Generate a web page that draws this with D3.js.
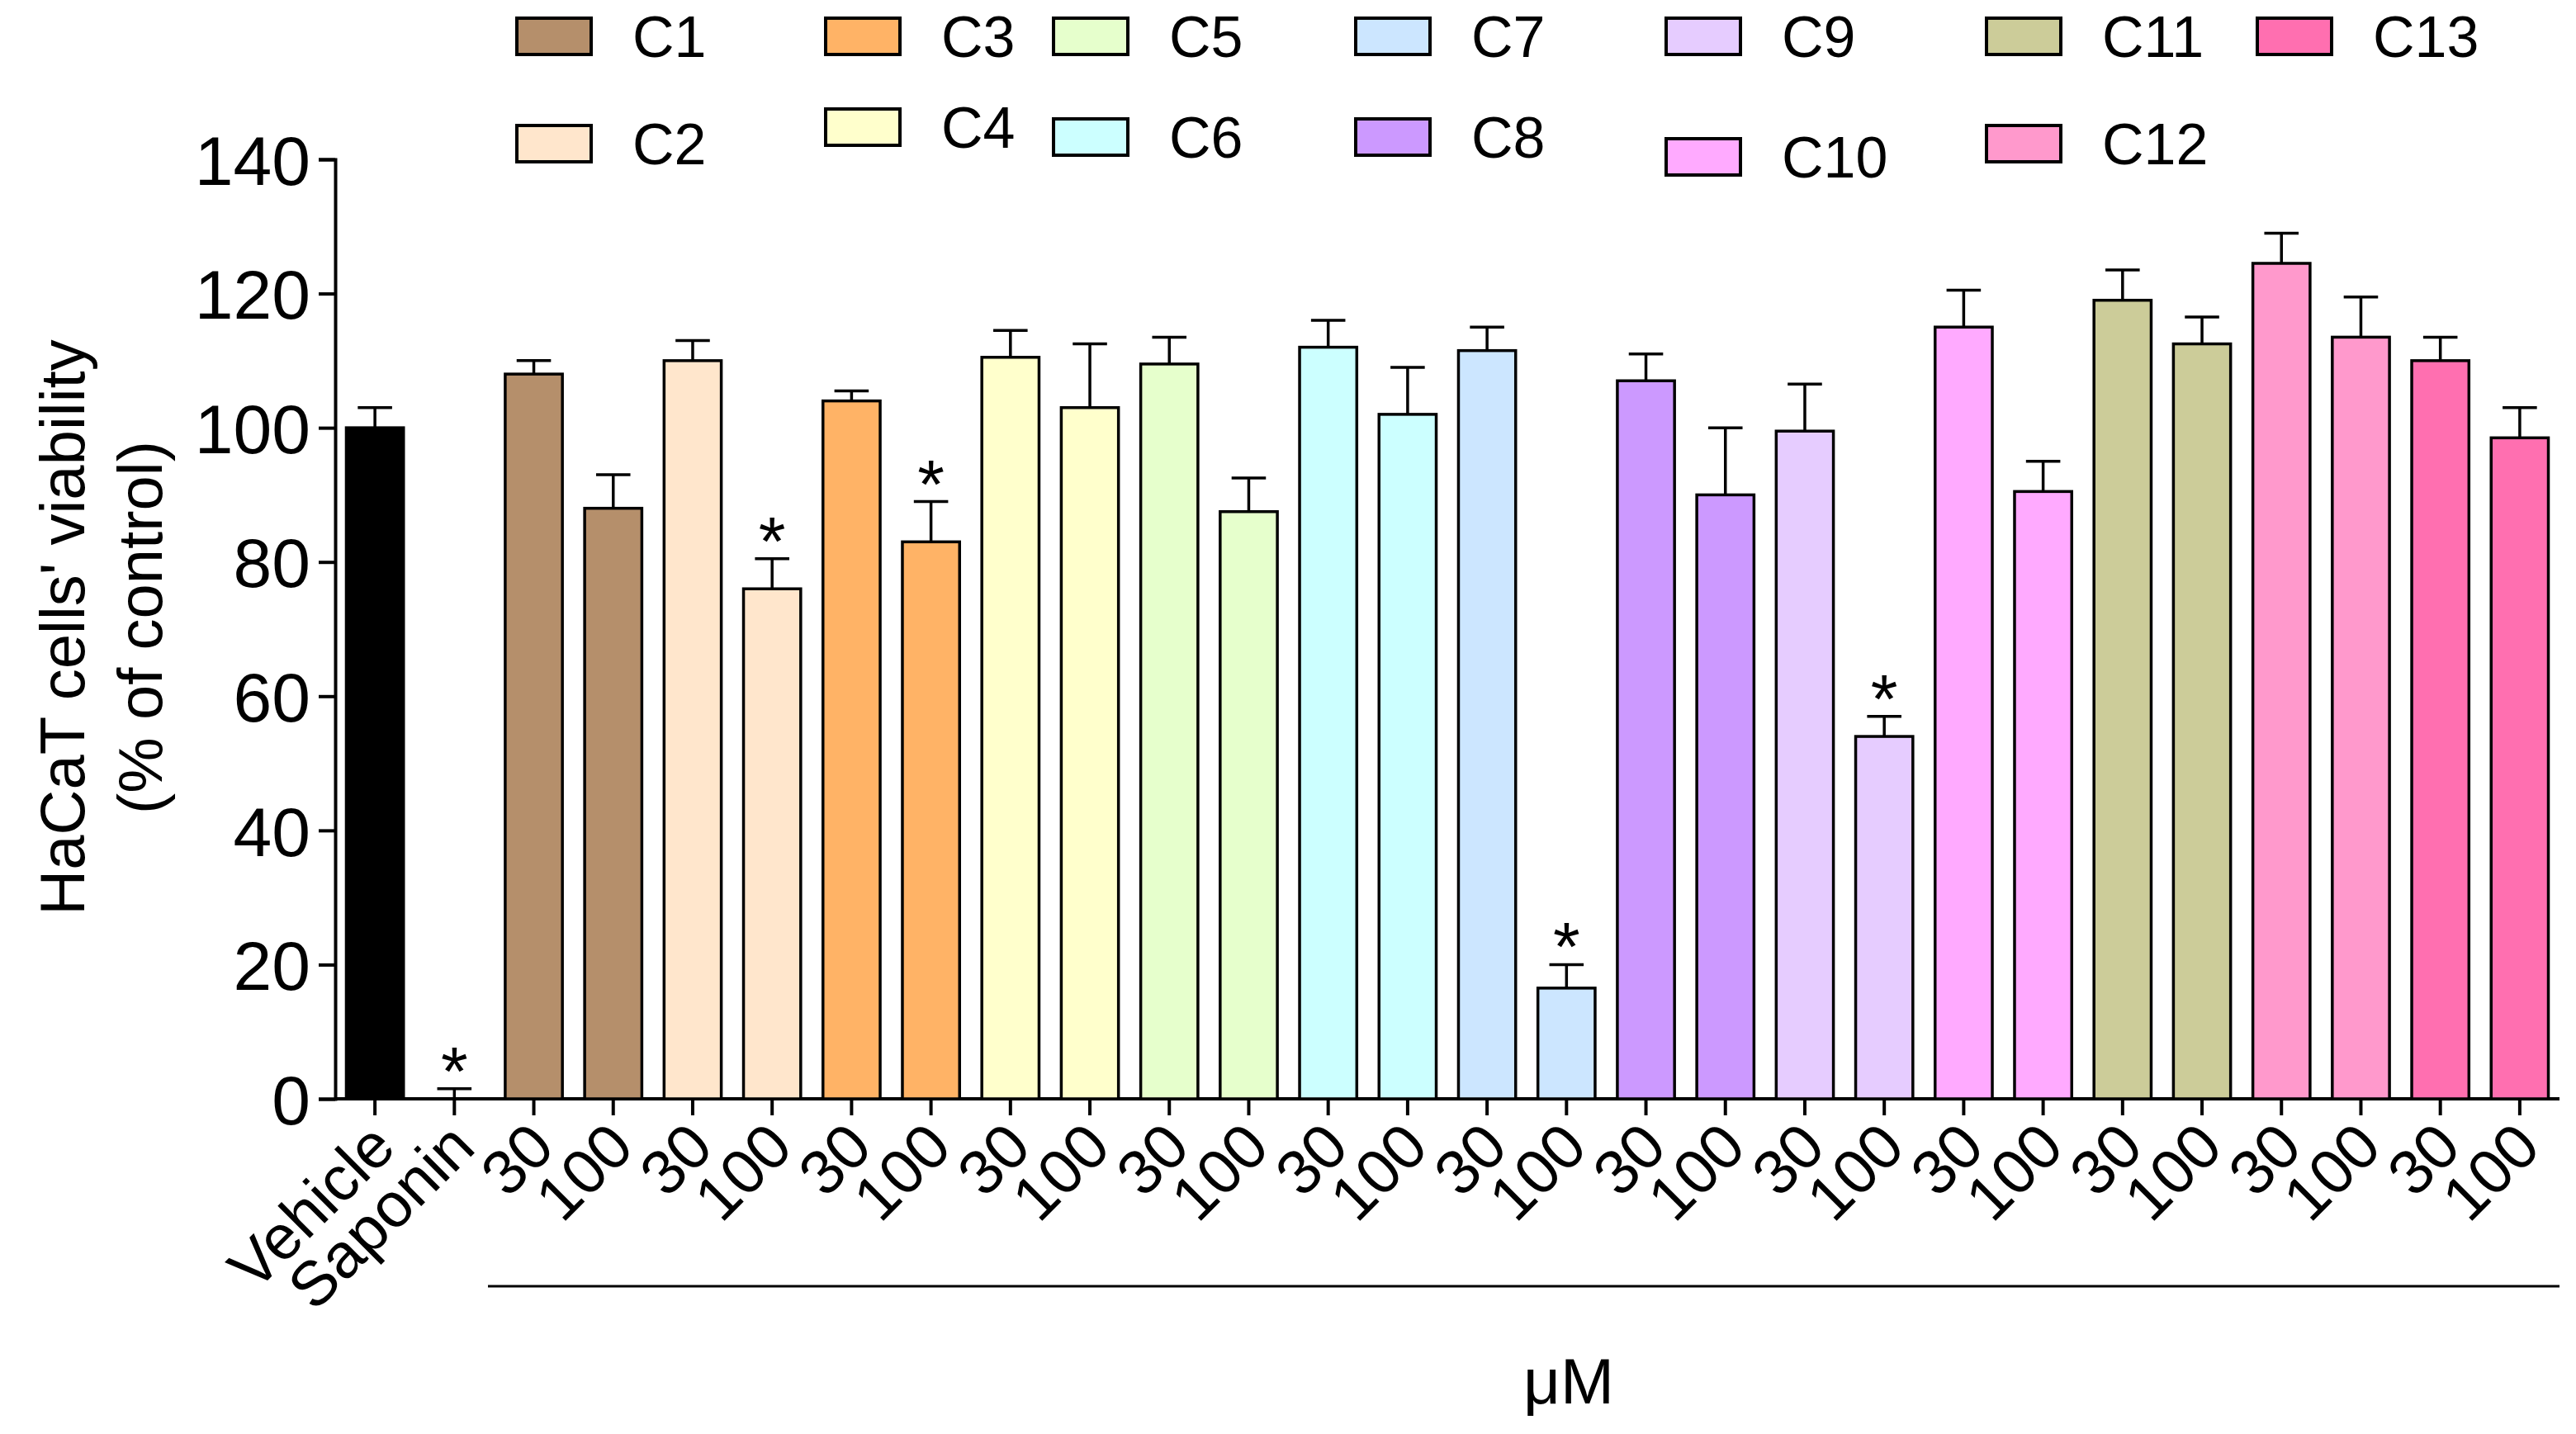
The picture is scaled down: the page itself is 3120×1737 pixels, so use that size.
<!DOCTYPE html>
<html><head><meta charset="utf-8">
<script src="https://cdn.jsdelivr.net/npm/d3@7"></script>
<style>body{margin:0;background:#fff}text{font-family:"Liberation Sans",Arial,sans-serif}</style>
</head><body><svg id="c" width="3120" height="1737"></svg>
<script>
const groups = ['C1','C2','C3','C4','C5','C6','C7','C8','C9','C10','C11','C12','C13'];
const groupColors = ['#b58f6b','#ffe6cc','#ffb366','#ffffcc','#e6ffcc','#ccffff','#cce6ff','#cc99ff','#e6ccff','#ffaaff','#cccc99','#ff99cc','#ff6fb0'];
const doses = ['30','100'];
const controlLabels = ['Vehicle','Saponin'];
const controlMeans = [100, 0];
const controlErr = [3, 1.5];
const groupMeans = [[108,88],[110,76],[104,83],[110.5,103],[109.5,87.5],[112,102],[111.5,16.5],[107,90],[99.5,54],[115,90.5],[119,112.5],[124.5,113.5],[110,98.5]];
const groupErr = [[2,5],[3,4.5],[1.5,6],[4,9.5],[4,5],[4,7],[3.5,3.5],[4,10],[7,3],[5.5,4.5],[4.5,4],[4.5,6],[3.5,4.5]];
const significant = ['Saponin','C2-100','C3-100','C7-100','C9-100'];
const yTicks = [0,20,40,60,80,100,120,140];

let bars = controlLabels.map((l,i)=>({key:l,label:l,v:controlMeans[i],e:controlErr[i],color:i?'#fff':'#000'}));
groups.forEach((g,gi)=>doses.forEach((d,di)=>bars.push({key:g+'-'+d,label:d,v:groupMeans[gi][di],e:groupErr[gi][di],color:groupColors[gi]})));

const svg = d3.select('#c');
const x = d3.scaleBand().domain(bars.map(b=>b.key)).range([406,3100]).paddingInner(0.28).paddingOuter(0.14);
const y = d3.scaleLinear().domain([0,140]).range([1331,193]);

svg.append('g').attr('transform','translate(406,0)')
  .call(d3.axisLeft(y).tickValues(yTicks).tickSize(20).tickPadding(10))
  .call(g=>{g.selectAll('path,line').attr('stroke','#000').attr('stroke-width',4);
    g.selectAll('text').attr('font-size',84).attr('fill','#000').attr('dy','0.36em');});

svg.append('g').attr('transform','translate(0,1331)')
  .call(d3.axisBottom(x).tickSize(20).tickFormat(k=>bars.find(b=>b.key===k).label))
  .call(g=>{g.select('.domain').attr('d','M406,0H3100');
    g.selectAll('path,line').attr('stroke','#000').attr('stroke-width',4);
    g.selectAll('text').attr('font-size',76).attr('fill','#000')
      .attr('text-anchor','end').attr('dy',0).attr('y',0)
      .attr('transform','translate(28,62) rotate(-45)');});

const bw = x.bandwidth();
const bg = svg.append('g');
bars.forEach(b=>{
  const cx = x(b.key)+bw/2;
  bg.append('line').attr('x1',cx).attr('x2',cx).attr('y1',y(b.v)).attr('y2',y(b.v+b.e)).attr('stroke','#000').attr('stroke-width',3.5);
  bg.append('line').attr('x1',cx-bw*0.3).attr('x2',cx+bw*0.3).attr('y1',y(b.v+b.e)).attr('y2',y(b.v+b.e)).attr('stroke','#000').attr('stroke-width',3.5);
  if(b.v>0) bg.append('rect').attr('x',x(b.key)).attr('width',bw).attr('y',y(b.v)).attr('height',y(0)-y(b.v))
    .attr('fill',b.color).attr('stroke','#000').attr('stroke-width',3.5);
  if(significant.includes(b.key)) bg.append('text').attr('x',cx).attr('y',y(b.v+b.e)+8).attr('text-anchor','middle')
    .attr('font-size',84).text('*');
});

svg.append('line').attr('x1',591).attr('x2',3100).attr('y1',1558).attr('y2',1558).attr('stroke','#000').attr('stroke-width',3);
svg.append('text').attr('x',1900).attr('y',1700).attr('text-anchor','middle').attr('font-size',78).text('μM');
svg.append('text').attr('transform','translate(102,760) rotate(-90)').attr('text-anchor','middle').attr('font-size',76).text("HaCaT cells' viability");
svg.append('text').attr('transform','translate(196,760) rotate(-90)').attr('text-anchor','middle').attr('font-size',76).text('(% of control)');

// legend
const legX = [626,1000,1276,1642,2018,2406,2734];
const legY2 = [174,154,166,166,190,174];
const lg = svg.append('g');
groups.forEach((g,i)=>{
  const col = Math.floor(i/2), row = i%2;
  const lx = legX[col], ly = row ? legY2[col] : 44;
  lg.append('rect').attr('x',lx).attr('y',ly-22).attr('width',90).attr('height',44)
    .attr('fill',groupColors[i]).attr('stroke','#000').attr('stroke-width',4);
  lg.append('text').attr('x',lx+140).attr('y',ly+25).attr('font-size',70).text(g);
});
</script></body></html>
